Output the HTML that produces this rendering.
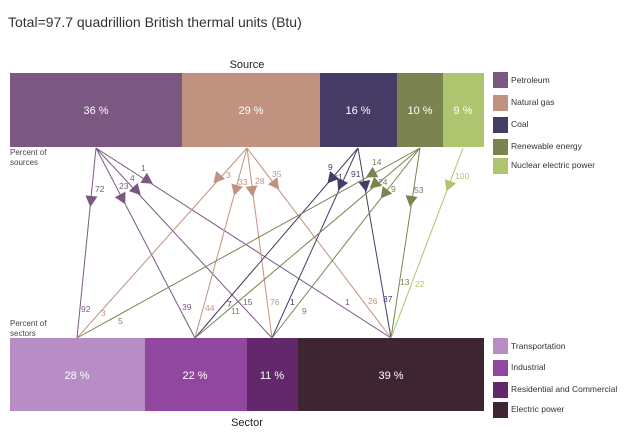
<!DOCTYPE html>
<html><head><meta charset="utf-8"><style>
body{margin:0;background:#fff;width:640px;height:437px;overflow:hidden;font-family:"Liberation Sans","DejaVu Sans",sans-serif}
</style></head><body>
<svg id="s" width="640" height="437" xmlns="http://www.w3.org/2000/svg" font-family="Liberation Sans, DejaVu Sans, sans-serif">
<text x="8" y="27" font-size="14" fill="#333">Total=97.7 quadrillion British thermal units (Btu)</text>
<text x="247" y="68" font-size="11" fill="#222" text-anchor="middle">Source</text>
<text x="247" y="426" font-size="11" fill="#222" text-anchor="middle">Sector</text>
<rect x="10" y="73" width="172" height="74" fill="#7b5882"/>
<rect x="182" y="73" width="138" height="74" fill="#bf9380"/>
<rect x="320" y="73" width="77" height="74" fill="#463c66"/>
<rect x="397" y="73" width="46" height="74" fill="#7b8450"/>
<rect x="443" y="73" width="41" height="74" fill="#afc46f"/>
<g fill="#fff" font-size="11" text-anchor="middle">
<text x="96" y="114">36 %</text><text x="251" y="114">29 %</text><text x="358" y="114">16 %</text><text x="420" y="114">10 %</text><text x="463" y="114">9 %</text>
</g>
<rect x="10" y="338" width="135" height="73" fill="#b88cc4"/>
<rect x="145" y="338" width="102" height="73" fill="#9147a0"/>
<rect x="247" y="338" width="51" height="73" fill="#63286b"/>
<rect x="298" y="338" width="186" height="73" fill="#3d2631"/>
<g fill="#fff" font-size="11" text-anchor="middle">
<text x="77" y="379">28 %</text><text x="195" y="379">22 %</text><text x="272" y="379">11 %</text><text x="391" y="379">39 %</text>
</g>
<g font-size="8" fill="#444">
<text x="10" y="155">Percent of</text><text x="10" y="165">sources</text>
<text x="10" y="326">Percent of</text><text x="10" y="336">sectors</text>
</g>
<g font-size="8.5" fill="#333">
<rect x="493" y="72" width="15" height="16" fill="#7b5882"/><text x="511" y="83">Petroleum</text>
<rect x="493" y="95" width="15" height="16" fill="#bf9380"/><text x="511" y="105">Natural gas</text>
<rect x="493" y="117" width="15" height="16" fill="#463c66"/><text x="511" y="127">Coal</text>
<rect x="493" y="139" width="15" height="16" fill="#7b8450"/><text x="511" y="149">Renewable energy</text>
<rect x="493" y="158" width="15" height="16" fill="#afc46f"/><text x="511" y="168">Nuclear electric power</text>
<rect x="493" y="338" width="15" height="16" fill="#b88cc4"/><text x="511" y="349">Transportation</text>
<rect x="493" y="360" width="15" height="16" fill="#9147a0"/><text x="511" y="370">Industrial</text>
<rect x="493" y="382" width="15" height="16" fill="#63286b"/><text x="511" y="392">Residential and Commercial</text>
<rect x="493" y="402" width="15" height="16" fill="#3d2631"/><text x="511" y="412">Electric power</text>
</g>
<g id="f"></g>
</svg>
<script>
var S={p:[96,148,'#7b5882'],n:[247,148,'#bf9380'],c:[358,148,'#463c66'],r:[420,148,'#7b8450'],u:[463,148,'#afc46f']};
var D={t:[77,338],i:[195,338],h:[272,338],e:[391,338]};
var F=[
['p','t',91,200,'72',95,192,'92',81,312],
['p','i',122,198,'23',119,189,'39',182,310],
['p','h',136,190,'4',130,181,'15',243,305],
['p','e',147,180,'1',141,171,'1',345,305],
['n','t',218,178,'3',226,178,'3',101,316],
['n','i',236,189,'33',238,185,'44',205,311],
['n','h',252,190,'28',255,184,'76',270,305],
['n','e',275,184,'35',272,177,'26',368,304],
['c','i',332,178,'9',328,170,'7',227,307],
['c','h',341,184,'<1',333,180,'1',290,305],
['c','e',365,185,'91',351,177,'37',383,302],
['r','t',372,174,'14',372,165,'5',118,324],
['r','i',375,184,'24',378,185,'11',231,314],
['r','h',385,193,'9',391,192,'9',302,314],
['r','e',411,200,'53',414,193,'13',400,285],
['u','e',449,185,'100',455,179,'22',415,287]];
var g=document.getElementById('f'),h='';
F.forEach(function(a){var s=S[a[0]],d=D[a[1]],c=s[2];
h+='<line x1="'+s[0]+'" y1="'+s[1]+'" x2="'+d[0]+'" y2="'+d[1]+'" stroke="'+c+'" stroke-width="1"/>';
var dx=d[0]-s[0],dy=d[1]-s[1],L=Math.hypot(dx,dy);dx/=L;dy/=L;
var x=a[2],y=a[3],px=-dy,py=dx;
h+='<polygon points="'+(x+dx*7)+','+(y+dy*7)+' '+(x-dx*4+px*6)+','+(y-dy*4+py*6)+' '+(x-dx*4-px*6)+','+(y-dy*4-py*6)+'" fill="'+c+'"/>';
h+='<text x="'+a[5]+'" y="'+a[6]+'" font-size="8.5" fill="'+c+'">'+a[4].replace('<','&lt;')+'</text>';
h+='<text x="'+a[8]+'" y="'+a[9]+'" font-size="8.5" fill="'+c+'">'+a[7]+'</text>';});
g.innerHTML=h;
</script>
</body></html>
